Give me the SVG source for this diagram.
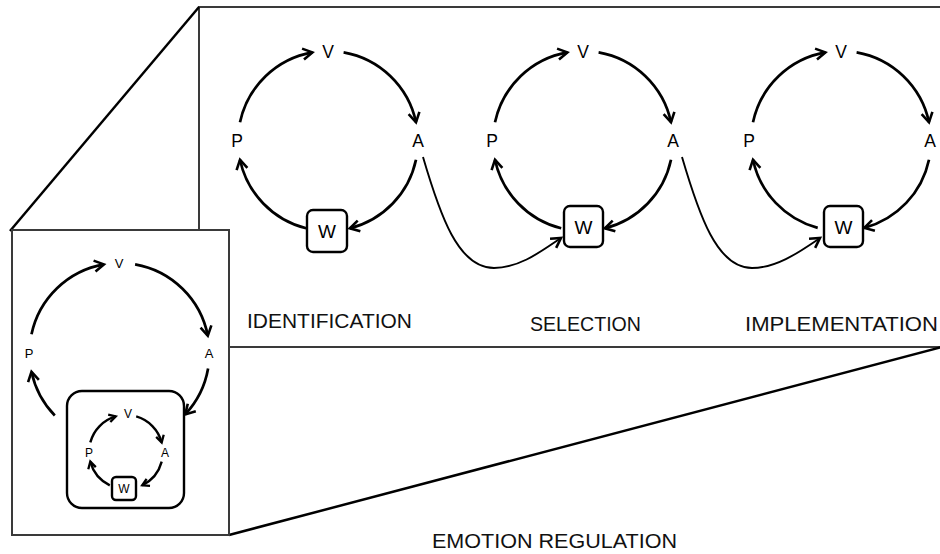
<svg xmlns="http://www.w3.org/2000/svg" width="940" height="554" viewBox="0 0 940 554">
<style>
  .panel{fill:#fff;stroke:#3a3a3a;stroke-width:2}
  .diag{stroke:#000;stroke-width:2.5;fill:none}
  .arc{fill:none;stroke:#000;stroke-width:2.7;marker-end:url(#ah)}
  .arcm{fill:none;stroke:#000;stroke-width:2.4;marker-end:url(#ahm)}
  .link{fill:none;stroke:#000;stroke-width:1.9;marker-end:url(#ah)}
  .box{fill:#fff;stroke:#000;stroke-width:2.4}
  .lbl{font-family:"Liberation Sans",Arial,sans-serif;fill:#000;text-anchor:middle}
  .big{font-size:17.5px}
  .w{font-size:19px}
  .sm{font-size:13px}
  .mini{font-size:12px}
  .cap{font-family:"Liberation Sans",Arial,sans-serif;fill:#111;font-size:21px}
</style>
<defs>
  <marker id="ah" viewBox="0 0 12 12" refX="11" refY="6" markerWidth="12" markerHeight="12" markerUnits="userSpaceOnUse" orient="auto" overflow="visible">
    <path d="M1.5,0.5 L11,6 L1.5,11.5" fill="none" stroke="#000" stroke-width="2.6" stroke-linejoin="miter"/>
  </marker>
  <marker id="ahm" viewBox="0 0 9 9" refX="8" refY="4.5" markerWidth="9" markerHeight="9" markerUnits="userSpaceOnUse" orient="auto" overflow="visible">
    <path d="M1.2,0.6 L8,4.5 L1.2,8.4" fill="none" stroke="#000" stroke-width="2.3"/>
  </marker>
</defs>
<rect width="940" height="554" fill="#fff"/>

<!-- big expanded panel -->
<rect id="panel-stages" class="panel" x="199" y="7" width="770" height="340"/>
<!-- zoom lines -->
<g id="zoom-lines">
  <line class="diag" x1="10" y1="231" x2="199" y2="7"/>
  <line class="diag" x1="229" y1="535" x2="942" y2="347"/>
</g>
<!-- small panel -->
<rect id="panel-overview" class="panel" x="12" y="230" width="217" height="305"/>

<!-- nodes: identification -->
<g id="id-V"><text class="lbl big" x="328" y="58">V</text></g>
<g id="id-A"><text class="lbl big" x="418" y="147">A</text></g>
<g id="id-P"><text class="lbl big" x="237" y="147">P</text></g>
<g id="id-W"><rect class="box" x="307" y="210" width="40" height="42" rx="6"/><text class="lbl w" x="327" y="238">W</text></g>

<!-- nodes: selection -->
<g id="sel-V"><text class="lbl big" x="583" y="58">V</text></g>
<g id="sel-A"><text class="lbl big" x="673" y="147">A</text></g>
<g id="sel-P"><text class="lbl big" x="492" y="147">P</text></g>
<g id="sel-W"><rect class="box" x="564" y="206" width="39" height="41" rx="6"/><text class="lbl w" x="583.5" y="234">W</text></g>

<!-- nodes: implementation -->
<g id="imp-V"><text class="lbl big" x="841" y="58">V</text></g>
<g id="imp-A"><text class="lbl big" x="930" y="147">A</text></g>
<g id="imp-P"><text class="lbl big" x="749" y="147">P</text></g>
<g id="imp-W"><rect class="box" x="824" y="206" width="39" height="41" rx="6"/><text class="lbl w" x="843.5" y="234">W</text></g>

<!-- nodes: overview -->
<g id="ov-V"><text class="lbl sm" x="119" y="268">V</text></g>
<g id="ov-A"><text class="lbl sm" x="209" y="358">A</text></g>
<g id="ov-P"><text class="lbl sm" x="29" y="358">P</text></g>
<g id="ov-box"><rect class="box" x="67" y="391" width="117" height="117" rx="15"/></g>
<g id="mini-V"><text class="lbl mini" x="128" y="418">V</text></g>
<g id="mini-A"><text class="lbl mini" x="165" y="457">A</text></g>
<g id="mini-P"><text class="lbl mini" x="89" y="457">P</text></g>
<g id="mini-W"><rect class="box" x="112" y="477" width="24" height="23" rx="4"/><text class="lbl mini" x="124" y="493">W</text></g>

<!-- connectors -->
<g id="connectors">
  <!-- identification -->
  <path class="arc" d="M240,122.3 A90,90 0 0 1 312.4,52.4"/>
  <path class="arc" d="M343.6,52.4 A90,90 0 0 1 416,122.3"/>
  <path class="arc" d="M416,159.7 A90,90 0 0 1 349.8,228.3"/>
  <path class="arc" d="M306.2,228.3 A90,90 0 0 1 240,159.7"/>
  <!-- selection -->
  <path class="arc" d="M495,122.3 A90,90 0 0 1 567.4,52.4"/>
  <path class="arc" d="M598.6,52.4 A90,90 0 0 1 671,122.3"/>
  <path class="arc" d="M671,159.7 A90,90 0 0 1 604.8,228.3"/>
  <path class="arc" d="M561.2,228.3 A90,90 0 0 1 495,159.7"/>
  <!-- implementation -->
  <path class="arc" d="M753,122.3 A90,90 0 0 1 825.4,52.4"/>
  <path class="arc" d="M856.6,52.4 A90,90 0 0 1 929,122.3"/>
  <path class="arc" d="M929,159.7 A90,90 0 0 1 864.3,227.9"/>
  <path class="arc" d="M817.7,227.9 A90,90 0 0 1 753,159.7"/>
  <!-- links between stages -->
  <path class="link" d="M423,157 C440,215 458,268 494,268 C520,268 543,250 561,238"/>
  <path class="link" d="M682,157 C699,215 717,268 752,268 C778,268 802,250 820,238"/>
  <!-- overview -->
  <path class="arc" d="M31.5,334.3 A90,90 0 0 1 103.9,264.4"/>
  <path class="arc" d="M135.1,264.4 A90,90 0 0 1 207.8,335.8"/>
  <path class="arc" d="M208.1,368.6 A90,90 0 0 1 185.3,414.4"/>
  <path class="arc" d="M54.8,415.5 A90,90 0 0 1 31.5,371.7"/>
  <!-- mini -->
  <path class="arcm" d="M90.3,442.4 A37,37 0 0 1 115.8,416.4"/>
  <path class="arcm" d="M136.2,416.4 A37,37 0 0 1 161.7,442.4"/>
  <path class="arcm" d="M161.7,461.6 A37,37 0 0 1 142.2,485.3"/>
  <path class="arcm" d="M109.8,485.3 A37,37 0 0 1 90.3,461.6"/>
</g>

<!-- captions -->
<text class="cap" x="247" y="328" font-size="22" textLength="165" lengthAdjust="spacingAndGlyphs">IDENTIFICATION</text>
<text class="cap" x="530" y="331" font-size="22" textLength="111" lengthAdjust="spacingAndGlyphs">SELECTION</text>
<text class="cap" x="745" y="331" font-size="22" textLength="193" lengthAdjust="spacingAndGlyphs">IMPLEMENTATION</text>
<text class="cap" x="432" y="548" textLength="245" lengthAdjust="spacingAndGlyphs">EMOTION REGULATION</text>
</svg>
